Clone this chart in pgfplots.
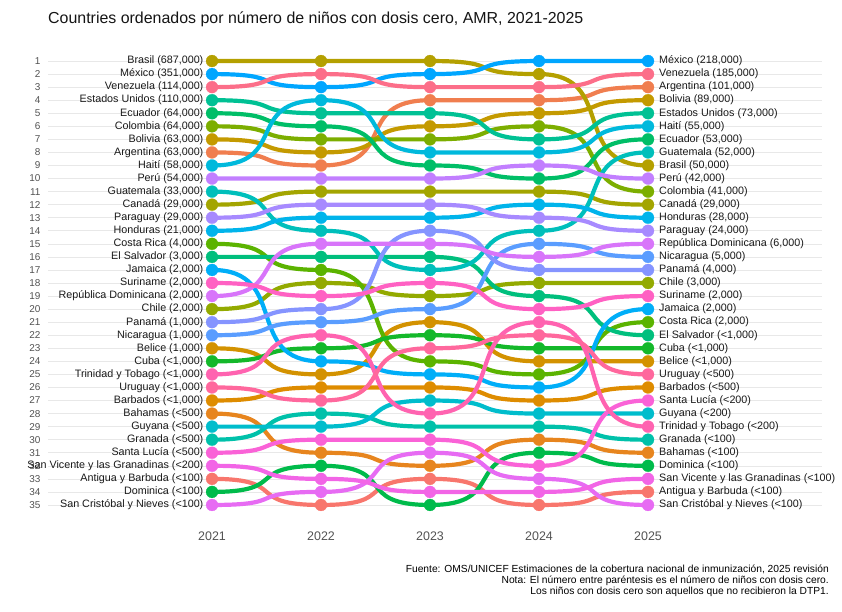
\documentclass[border=0pt]{standalone}
\usepackage{fontspec}
\setmainfont{Liberation Sans}
\usepackage{pgfplots}
\pgfplotsset{compat=1.18}
\usepackage{pgfplotstable}

% sigmoid plot handler (horizontal tangents at every data point)
\makeatletter
\newdimen\sig@px \newdimen\sig@py \newdimen\sig@ca \newdimen\sig@cb \newdimen\sig@dx
\def\pgfplothandlersigmoid{%
  \def\pgf@plotstreamstart{%
    \global\let\pgf@plotstreampoint=\pgf@plot@sigmoid@first
    \global\let\pgf@plotstreamspecial=\pgfutil@gobble
    \global\let\pgf@plotstreamend=\relax
  }%
}
\def\pgf@plot@sigmoid@first#1{%
  \pgf@process{#1}%
  \global\sig@px=\pgf@x \global\sig@py=\pgf@y
  \pgf@plot@first@action{\pgfqpoint{\sig@px}{\sig@py}}%
  \global\let\pgf@plotstreampoint=\pgf@plot@sigmoid@next
}
\def\pgf@plot@sigmoid@next#1{%
  \pgf@process{#1}%
  \edef\sig@nx{\the\pgf@x}\edef\sig@ny{\the\pgf@y}%
  \sig@dx=\pgf@x \advance\sig@dx by -\sig@px
  \sig@ca=\sig@px \advance\sig@ca by 0.72\sig@dx
  \sig@cb=\pgf@x \advance\sig@cb by -0.72\sig@dx
  \edef\sig@cas{\the\sig@ca}\edef\sig@cbs{\the\sig@cb}\edef\sig@pys{\the\sig@py}%
  \pgfpathcurveto{\pgfqpoint{\sig@cas}{\sig@pys}}{\pgfqpoint{\sig@cbs}{\sig@ny}}{\pgfqpoint{\sig@nx}{\sig@ny}}%
  \global\sig@px=\sig@nx\relax \global\sig@py=\sig@ny\relax
}
\tikzset{sigmoid/.code={\let\tikz@plot@handler=\pgfplothandlersigmoid}}
\makeatother

\definecolor{cAntigua}{HTML}{F8766D}
\definecolor{cArgentina}{HTML}{F07E4F}
\definecolor{cBahamas}{HTML}{E7851E}
\definecolor{cBarbados}{HTML}{DE8C00}
\definecolor{cBelice}{HTML}{D39200}
\definecolor{cBolivia}{HTML}{C49A00}
\definecolor{cBrasil}{HTML}{B4A000}
\definecolor{cCanada}{HTML}{A3A500}
\definecolor{cChile}{HTML}{93AA00}
\definecolor{cColombia}{HTML}{7CAE00}
\definecolor{cCostaRica}{HTML}{5BB300}
\definecolor{cCuba}{HTML}{14B82A}
\definecolor{cDominica}{HTML}{00BB4B}
\definecolor{cEcuador}{HTML}{00BE67}
\definecolor{cElSalvador}{HTML}{00BF7D}
\definecolor{cEEUU}{HTML}{00C194}
\definecolor{cGranada}{HTML}{00C1AA}
\definecolor{cGuatemala}{HTML}{00BFBB}
\definecolor{cGuyana}{HTML}{00BDCC}
\definecolor{cHaiti}{HTML}{00B9DC}
\definecolor{cHonduras}{HTML}{00B4EB}
\definecolor{cJamaica}{HTML}{00AEF8}
\definecolor{cMexico}{HTML}{00A6FF}
\definecolor{cNicaragua}{HTML}{5A9DFF}
\definecolor{cPanama}{HTML}{8594FF}
\definecolor{cParaguay}{HTML}{A78AFF}
\definecolor{cPeru}{HTML}{C27FFF}
\definecolor{cRepDom}{HTML}{D875FA}
\definecolor{cSCN}{HTML}{E76BF3}
\definecolor{cSVG}{HTML}{F265E6}
\definecolor{cSantaLucia}{HTML}{FA62D7}
\definecolor{cSuriname}{HTML}{FF61C3}
\definecolor{cTrinidad}{HTML}{FF63B0}
\definecolor{cUruguay}{HTML}{FF689D}
\definecolor{cVenezuela}{HTML}{FC6E89}

\pgfplotstableread{
year Antigua Argentina Bahamas Barbados Belice Bolivia Brasil Canada Chile Colombia CostaRica Cuba Dominica Ecuador ElSalvador EEUU Granada Guatemala Guyana Haiti Honduras Jamaica Mexico Nicaragua Panama Paraguay Peru RepDom SCN SVG SantaLucia Suriname Trinidad Uruguay Venezuela
2021 33 8 28 27 23 7 1 12 20 6 15 24 34 5 16 4 30 11 29 9 14 17 2 22 21 13 10 19 35 32 31 18 25 26 3
2022 35 9 31 26 25 8 1 11 18 7 17 23 32 6 16 5 28 14 29 4 13 24 3 21 20 12 10 15 34 33 30 19 22 27 2
2023 33 4 32 26 21 6 1 11 19 7 24 22 35 9 16 5 29 17 27 8 13 25 2 20 14 12 10 15 31 34 30 18 28 23 3
2024 35 4 30 27 24 5 2 11 18 6 25 23 31 10 19 7 29 14 28 8 12 26 1 15 17 13 9 16 33 34 32 20 21 22 3
2025 34 3 31 26 24 4 9 12 18 11 21 23 32 7 22 5 30 8 28 6 13 20 1 16 17 14 10 15 35 33 27 19 29 25 2
}\ranks

\newcommand{\labfont}{\fontsize{10.8}{13}\selectfont}
\newcommand{\notefont}{\fontsize{10.3}{12}\selectfont}
\tikzset{
  lL/.style={anchor=east, xshift=-8.5bp, font=\labfont, text=black!90, inner sep=0pt},
  lR/.style={anchor=west, xshift=11bp, font=\labfont, text=black!90, inner sep=0pt},
}

\begin{document}
\begin{tikzpicture}
\useasboundingbox (0,0) rectangle (842bp,612bp);
\begin{axis}[
  at={(48bp,100.5bp)}, anchor=south west,
  scale only axis, width=774bp, height=457bp,
  xmin=2019.495, xmax=2026.596,
  ymin=0.5, ymax=35.5, y dir=reverse,
  axis line style={draw=none},
  major tick length=0pt,
  xtick={2021,2022,2023,2024,2025},
  xticklabels={2021,2022,2023,2024,2025},
  ytick={1,...,35},
  /pgf/number format/assume math mode=true,
  ymajorgrids,
  grid style={color=black!9, line width=0.6bp},
  clip=false,
  xticklabel style={font=\fontsize{12.5}{14}\selectfont, text=black!68, yshift=-17bp},
  yticklabel style={font=\fontsize{10}{11}\selectfont, text=black!68, xshift=-4bp},
]
\pgfplotsinvokeforeach{Antigua,Argentina,Bahamas,Barbados,Belice,Bolivia,Brasil,Canada,Chile,Colombia,CostaRica,Cuba,Dominica,Ecuador,ElSalvador,EEUU,Granada,Guatemala,Guyana,Haiti,Honduras,Jamaica,Mexico,Nicaragua,Panama,Paraguay,Peru,RepDom,SCN,SVG,SantaLucia,Suriname,Trinidad,Uruguay,Venezuela}{
  \addplot[sigmoid, color=c#1, line width=4.2bp, mark=*, mark size=6bp, mark options={line width=0.2bp}] table[x=year, y=#1] {\ranks};
}
% left labels (2021)
\node[lL] at (axis cs:2021,1) {Brasil (687,000)};
\node[lL] at (axis cs:2021,2) {México (351,000)};
\node[lL] at (axis cs:2021,3) {Venezuela (114,000)};
\node[lL] at (axis cs:2021,4) {Estados Unidos (110,000)};
\node[lL] at (axis cs:2021,5) {Ecuador (64,000)};
\node[lL] at (axis cs:2021,6) {Colombia (64,000)};
\node[lL] at (axis cs:2021,7) {Bolivia (63,000)};
\node[lL] at (axis cs:2021,8) {Argentina (63,000)};
\node[lL] at (axis cs:2021,9) {Haití (58,000)};
\node[lL] at (axis cs:2021,10) {Perú (54,000)};
\node[lL] at (axis cs:2021,11) {Guatemala (33,000)};
\node[lL] at (axis cs:2021,12) {Canadá (29,000)};
\node[lL] at (axis cs:2021,13) {Paraguay (29,000)};
\node[lL] at (axis cs:2021,14) {Honduras (21,000)};
\node[lL] at (axis cs:2021,15) {Costa Rica (4,000)};
\node[lL] at (axis cs:2021,16) {El Salvador (3,000)};
\node[lL] at (axis cs:2021,17) {Jamaica (2,000)};
\node[lL] at (axis cs:2021,18) {Suriname (2,000)};
\node[lL] at (axis cs:2021,19) {República Dominicana (2,000)};
\node[lL] at (axis cs:2021,20) {Chile (2,000)};
\node[lL] at (axis cs:2021,21) {Panamá (1,000)};
\node[lL] at (axis cs:2021,22) {Nicaragua (1,000)};
\node[lL] at (axis cs:2021,23) {Belice (1,000)};
\node[lL] at (axis cs:2021,24) {Cuba (<1,000)};
\node[lL] at (axis cs:2021,25) {Trinidad y Tobago (<1,000)};
\node[lL] at (axis cs:2021,26) {Uruguay (<1,000)};
\node[lL] at (axis cs:2021,27) {Barbados (<1,000)};
\node[lL] at (axis cs:2021,28) {Bahamas (<500)};
\node[lL] at (axis cs:2021,29) {Guyana (<500)};
\node[lL] at (axis cs:2021,30) {Granada (<500)};
\node[lL] at (axis cs:2021,31) {Santa Lucía (<500)};
\node[lL] at (axis cs:2021,32) {San Vicente y las Granadinas (<200)};
\node[lL] at (axis cs:2021,33) {Antigua y Barbuda (<100)};
\node[lL] at (axis cs:2021,34) {Dominica (<100)};
\node[lL] at (axis cs:2021,35) {San Cristóbal y Nieves (<100)};
% right labels (2025)
\node[lR] at (axis cs:2025,1) {México (218,000)};
\node[lR] at (axis cs:2025,2) {Venezuela (185,000)};
\node[lR] at (axis cs:2025,3) {Argentina (101,000)};
\node[lR] at (axis cs:2025,4) {Bolivia (89,000)};
\node[lR] at (axis cs:2025,5) {Estados Unidos (73,000)};
\node[lR] at (axis cs:2025,6) {Haití (55,000)};
\node[lR] at (axis cs:2025,7) {Ecuador (53,000)};
\node[lR] at (axis cs:2025,8) {Guatemala (52,000)};
\node[lR] at (axis cs:2025,9) {Brasil (50,000)};
\node[lR] at (axis cs:2025,10) {Perú (42,000)};
\node[lR] at (axis cs:2025,11) {Colombia (41,000)};
\node[lR] at (axis cs:2025,12) {Canadá (29,000)};
\node[lR] at (axis cs:2025,13) {Honduras (28,000)};
\node[lR] at (axis cs:2025,14) {Paraguay (24,000)};
\node[lR] at (axis cs:2025,15) {República Dominicana (6,000)};
\node[lR] at (axis cs:2025,16) {Nicaragua (5,000)};
\node[lR] at (axis cs:2025,17) {Panamá (4,000)};
\node[lR] at (axis cs:2025,18) {Chile (3,000)};
\node[lR] at (axis cs:2025,19) {Suriname (2,000)};
\node[lR] at (axis cs:2025,20) {Jamaica (2,000)};
\node[lR] at (axis cs:2025,21) {Costa Rica (2,000)};
\node[lR] at (axis cs:2025,22) {El Salvador (<1,000)};
\node[lR] at (axis cs:2025,23) {Cuba (<1,000)};
\node[lR] at (axis cs:2025,24) {Belice (<1,000)};
\node[lR] at (axis cs:2025,25) {Uruguay (<500)};
\node[lR] at (axis cs:2025,26) {Barbados (<500)};
\node[lR] at (axis cs:2025,27) {Santa Lucía (<200)};
\node[lR] at (axis cs:2025,28) {Guyana (<200)};
\node[lR] at (axis cs:2025,29) {Trinidad y Tobago (<200)};
\node[lR] at (axis cs:2025,30) {Granada (<100)};
\node[lR] at (axis cs:2025,31) {Bahamas (<100)};
\node[lR] at (axis cs:2025,32) {Dominica (<100)};
\node[lR] at (axis cs:2025,33) {San Vicente y las Granadinas (<100)};
\node[lR] at (axis cs:2025,34) {Antigua y Barbuda (<100)};
\node[lR] at (axis cs:2025,35) {San Cristóbal y Nieves (<100)};
\end{axis}
\node[anchor=base west, inner sep=0pt, font=\fontsize{16}{18}\selectfont, text=black!92] at (48bp,588.5bp) {Countries ordenados por número de niños con dosis cero, AMR, 2021-2025};
\node[anchor=base east, inner sep=0pt, font=\notefont] at (829bp,39.3bp) {Fuente: OMS/UNICEF Estimaciones de la cobertura nacional de inmunización, 2025 revisión};
\node[anchor=base east, inner sep=0pt, font=\notefont] at (829bp,28.3bp) {Nota: El número entre paréntesis es el número de niños con dosis cero.};
\node[anchor=base east, inner sep=0pt, font=\notefont] at (829bp,17.3bp) {Los niños con dosis cero son aquellos que no recibieron la DTP1.};
\end{tikzpicture}
\end{document}
